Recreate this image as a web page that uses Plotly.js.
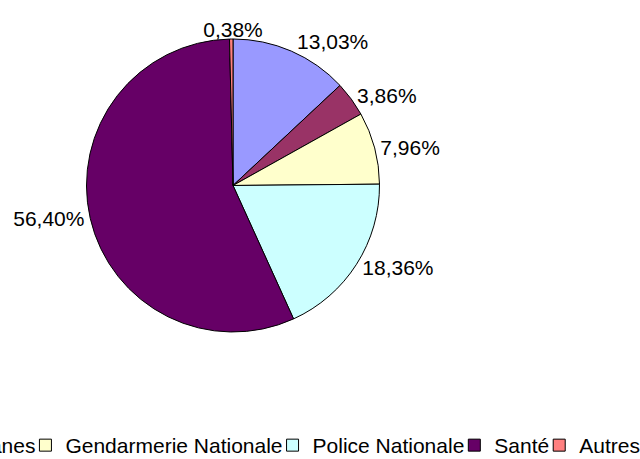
<!DOCTYPE html>
<html>
<head>
<meta charset="utf-8">
<script src="https://cdn.plot.ly/plotly-3.0.1.min.js"></script>
<style>
  html, body { margin: 0; padding: 0; width: 640px; height: 459px; overflow: hidden; background: #fff; }
  #chart { position: absolute; left: -360px; top: 0; width: 1005px; height: 466px; }
</style>
</head>
<body>
<div id="chart"></div>
<script>
// Data
const categories = ["Armées", "Douanes", "Gendarmerie Nationale", "Police Nationale", "Santé", "Autres"];
const shares = [13.03, 3.86, 7.96, 18.36, 56.40, 0.38];
const sliceColors = ["#9999FF", "#993366", "#FFFFCC", "#CCFFFF", "#660066", "#FF8080"];

const fontFamily = '"Liberation Sans", Arial, sans-serif';
const fmt = v => v.toFixed(2).replace('.', ',') + '%';

// the tiny last slice's label sits centred above the pie (as in the reference)
const lastIdx = shares.length - 1;
const templates = shares.map((v, i) => i === lastIdx ? '' : '%{value:.2f}%');

const trace = {
  type: 'pie',
  labels: categories,
  values: shares,
  sort: false,
  direction: 'clockwise',
  rotation: 0,
  marker: { colors: sliceColors, line: { color: '#000000', width: 1 } },
  textposition: 'outside',
  texttemplate: templates,
  outsidetextfont: { family: fontFamily, size: 21, color: '#000000' },
  title: { text: fmt(shares[lastIdx]), position: 'top center', font: { family: fontFamily, size: 21, color: '#000000' } },
  hoverinfo: 'none',
  automargin: false,
  domain: { x: [0.44378, 0.73632], y: [0.28755, 0.96567] }
};

const layout = {
  width: 1005,
  height: 466,
  margin: { l: 0, r: 0, t: 0, b: 0, autoexpand: false },
  separators: ', ',
  paper_bgcolor: '#ffffff',
  plot_bgcolor: '#ffffff',
  font: { family: fontFamily, size: 21, color: '#000000' },
  showlegend: true,
  legend: {
    orientation: 'h',
    xref: 'container', yref: 'container',
    x: 1, xanchor: 'right',
    y: 0, yanchor: 'bottom',
    indentation: -15,
    font: { family: fontFamily, size: 21, color: '#000000' },
    bgcolor: 'rgba(0,0,0,0)'
  }
};

Plotly.newPlot('chart', [trace], layout, { staticPlot: true, displayModeBar: false });
</script>
</body>
</html>
